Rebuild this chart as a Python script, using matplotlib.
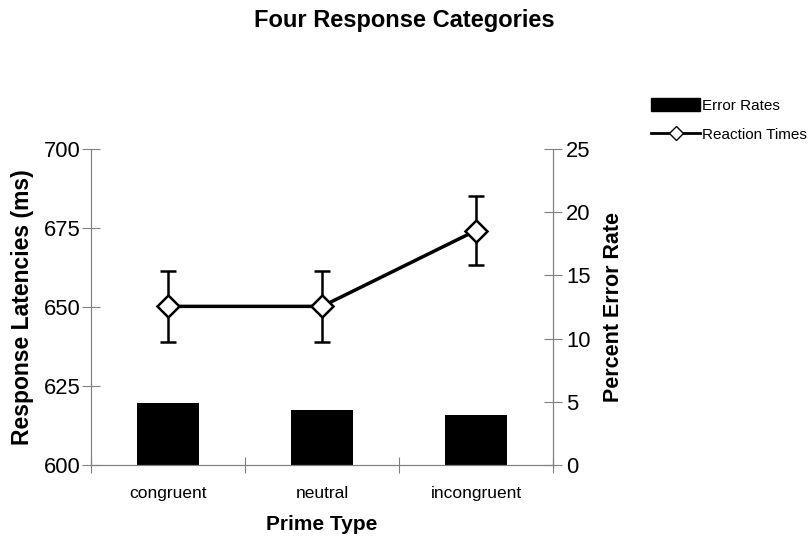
import matplotlib
matplotlib.use("Agg")
import matplotlib.pyplot as plt
from matplotlib.lines import Line2D
from matplotlib.patches import Patch

categories = ["congruent", "neutral", "incongruent"]
error_rates = [4.88, 4.35, 3.93]
reaction_times = [650.2, 650.2, 674.2]
rt_errors = [11.2, 11.2, 11.0]
left_ticks = [600, 625, 650, 675, 700]
right_ticks = [0, 5, 10, 15, 20, 25]

plt.rcParams['font.family'] = ['Liberation Sans', 'DejaVu Sans']

fig = plt.figure(figsize=(8.08, 5.40), dpi=100)
ax = fig.add_axes([91/808, 75/540, 462/808, 316/540])
ax2 = ax.twinx()

x = list(range(len(categories)))
ax2.bar(x, error_rates, width=0.4, color='black', zorder=2)
ax2.set_ylim(0, 25)
ax2.set_yticks(right_ticks)

ax.set_zorder(ax2.get_zorder() + 1)
ax.patch.set_visible(False)
ax.errorbar(x, reaction_times, yerr=rt_errors, color='black', lw=2.5,
            marker='D', markersize=11, markerfacecolor='white',
            markeredgecolor='black', markeredgewidth=1.8,
            ecolor='black', elinewidth=1.8, capsize=6, capthick=1.8, zorder=3)
ax.set_ylim(600, 700)
ax.set_yticks(left_ticks)
ax.set_xlim(-0.5, 2.5)
ax.set_xticks([-0.5, 0.5, 1.5, 2.5])
ax.set_xticklabels([])
ax.set_xticks(x, minor=True)
ax.set_xticklabels(categories, minor=True, fontsize=12.5)
ax.tick_params(axis='x', which='minor', length=0, pad=15)
ax.tick_params(axis='x', which='major', direction='inout', length=12, color='#808080')

for a in (ax, ax2):
    a.spines['top'].set_visible(False)
    for s in ('left', 'right', 'bottom'):
        a.spines[s].set_color('#808080')
ax.tick_params(axis='y', direction='inout', length=13, color='#808080', labelsize=15.8, pad=1)
ax2.tick_params(axis='y', direction='inout', length=13, color='#808080', labelsize=15.8, pad=3)

ax.set_ylabel("Response Latencies (ms)", fontsize=16.5, fontweight='bold', labelpad=7)
ax2.set_ylabel("Percent Error Rate", fontsize=15.5, fontweight='bold', labelpad=9)
ax.set_xlabel("Prime Type", fontsize=15, fontweight='bold', labelpad=10)

fig.text(404/808, 1 - 21/540, "Four Response Categories", ha='center', va='center',
         fontsize=17, fontweight='bold')

handles = [Patch(facecolor='black', edgecolor='black', label='Error Rates'),
           Line2D([0], [0], color='black', lw=2, marker='D', markersize=7,
                  markerfacecolor='white', markeredgecolor='black', label='Reaction Times')]
fig.legend(handles=handles, loc='upper left', bbox_to_anchor=(645/808, 1 - 92/540),
           frameon=False, fontsize=11, handlelength=3.2, handleheight=0.9,
           handletextpad=0.15, labelspacing=0.95, borderaxespad=0)

fig.savefig("out.png", dpi=100)
